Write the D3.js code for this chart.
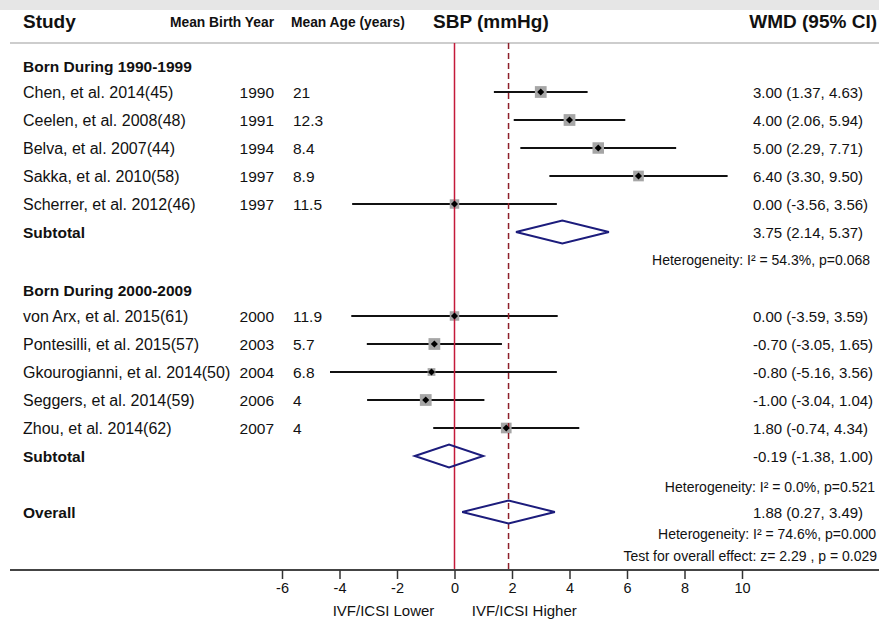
<!DOCTYPE html>
<html>
<head>
<meta charset="utf-8">
<script src="https://cdn.jsdelivr.net/npm/d3@7"></script>
<style>
    body { margin: 0; background: #fff; }
    svg { display: block; font-family: 'Liberation Sans', Arial, Helvetica, sans-serif; }
</style>
</head>
<body>
<div id="chart"></div>
<script>
// ---- data ----
const groupTitles = ['Born During 1990-1999', 'Born During 2000-2009'];

const studies1 = ['Chen, et al. 2014(45)', 'Ceelen, et al. 2008(48)', 'Belva, et al. 2007(44)',
    'Sakka, et al. 2010(58)', 'Scherrer, et al. 2012(46)'];
const birthYear1 = ['1990', '1991', '1994', '1997', '1997'];
const meanAge1 = ['21', '12.3', '8.4', '8.9', '11.5'];
const wmd1 = [3.00, 4.00, 5.00, 6.40, 0.00];
const lower1 = [1.37, 2.06, 2.29, 3.30, -3.56];
const upper1 = [4.63, 5.94, 7.71, 9.50, 3.56];
const weight1 = [11.5, 11.5, 11, 9.5, 7.5];

const studies2 = ['von Arx, et al. 2015(61)', 'Pontesilli, et al. 2015(57)', 'Gkourogianni, et al. 2014(50)',
    'Seggers, et al. 2014(59)', 'Zhou, et al. 2014(62)'];
const birthYear2 = ['2000', '2003', '2004', '2006', '2007'];
const meanAge2 = ['11.9', '5.7', '6.8', '4', '4'];
const wmd2 = [0.00, -0.70, -0.80, -1.00, 1.80];
const lower2 = [-3.59, -3.05, -5.16, -3.04, -0.74];
const upper2 = [3.59, 1.65, 3.56, 1.04, 4.34];
const weight2 = [7.5, 11.5, 5, 11.5, 9.5];

const subtotalEst = [3.75, -0.19];
const subtotalLow = [2.14, -1.38];
const subtotalHigh = [5.37, 1.00];
const heterogeneity = ['Heterogeneity: I² = 54.3%, p=0.068', 'Heterogeneity: I² = 0.0%, p=0.521'];

const overallEst = 1.88;
const overallLow = 0.27;
const overallHigh = 3.49;
const overallHet = 'Heterogeneity: I² = 74.6%, p=0.000';
const overallTest = 'Test for overall effect: z= 2.29 , p = 0.029';

const xTicks = [-6, -4, -2, 0, 2, 4, 6, 8, 10];
const sideLabels = ['IVF/ICSI Lower', 'IVF/ICSI Higher'];

// ---- layout ----
const width = 879, height = 623;
const x = d3.scaleLinear().domain([-6, 10]).range([282, 742]);
const y = d3.scaleLinear().domain([0, 1]).range([92, 120]); // one row per unit
const size = d3.scaleSqrt().domain([0, 12]).range([0, 12]);
const ciText = (e, l, h) => `${e.toFixed(2)} (${l.toFixed(2)}, ${h.toFixed(2)})`;

const svg = d3.select('#chart').append('svg')
    .attr('width', width)
    .attr('height', height);

// plot area starts right of the age column
svg.append('clipPath').attr('id', 'plotClip')
    .append('rect').attr('x', 330).attr('y', 0).attr('width', width).attr('height', height);

// top band + header
svg.append('rect').attr('x', 0).attr('y', 0).attr('width', width).attr('height', 10).attr('fill', '#e6e6e6');
svg.append('line').attr('x1', 10).attr('x2', width).attr('y1', 43).attr('y2', 43)
    .attr('stroke', '#bdbdbd').attr('stroke-width', 1.5);

const header = svg.append('g').attr('font-weight', 'bold').attr('fill', '#111');
header.append('text').attr('x', 23).attr('y', 28).attr('font-size', 19).text('Study');
header.append('text').attr('x', 170).attr('y', 27).attr('font-size', 13.8).text('Mean Birth Year');
header.append('text').attr('x', 291).attr('y', 27).attr('font-size', 13.8).text('Mean Age (years)');
header.append('text').attr('x', 433).attr('y', 28).attr('font-size', 19).text('SBP (mmHg)');
header.append('text').attr('x', 877).attr('y', 28).attr('font-size', 19).attr('text-anchor', 'end').text('WMD (95% CI)');

// build rows
const rows = [];
const groups = [
    { title: groupTitles[0], names: studies1, years: birthYear1, ages: meanAge1, est: wmd1, lo: lower1, hi: upper1, w: weight1 },
    { title: groupTitles[1], names: studies2, years: birthYear2, ages: meanAge2, est: wmd2, lo: lower2, hi: upper2, w: weight2 }
];
let r = 0;
groups.forEach((g, gi) => {
    rows.push({ type: 'title', row: r - 0.9, label: g.title });
    g.names.forEach((n, i) => {
        rows.push({ type: 'study', row: r, label: n, year: g.years[i], age: g.ages[i],
            est: g.est[i], lo: g.lo[i], hi: g.hi[i], w: g.w[i] });
        r++;
    });
    rows.push({ type: 'pooled', row: r, label: 'Subtotal', est: subtotalEst[gi], lo: subtotalLow[gi], hi: subtotalHigh[gi] });
    rows.push({ type: 'het', row: r + (gi === 0 ? 1 : 1.1), label: heterogeneity[gi], end: gi === 0 ? 870 : 875 });
    r += 3;
});
r -= 1;
rows.push({ type: 'pooled', row: r, label: 'Overall', est: overallEst, lo: overallLow, hi: overallHigh });
rows.push({ type: 'het', row: r + 0.78, label: overallHet, end: 876 });
rows.push({ type: 'het', row: r + 1.58, label: overallTest, end: 877 });

const studies = rows.filter(d => d.type === 'study');
const pooled = rows.filter(d => d.type === 'pooled');

// CI lines
svg.append('g').attr('clip-path', 'url(#plotClip)')
    .selectAll('line').data(studies).join('line')
    .attr('x1', d => x(d.lo)).attr('x2', d => x(d.hi))
    .attr('y1', d => y(d.row)).attr('y2', d => y(d.row))
    .attr('stroke', '#111').attr('stroke-width', 2.2);

// weight squares
svg.append('g').selectAll('rect').data(studies).join('rect')
    .attr('x', d => x(d.est) - size(d.w) / 2)
    .attr('y', d => y(d.row) - size(d.w) / 2)
    .attr('width', d => size(d.w)).attr('height', d => size(d.w))
    .attr('fill', '#a6a6a6');

// reference lines
const axisY = 570;
svg.append('line').attr('x1', x(0)).attr('x2', x(0)).attr('y1', 43).attr('y2', axisY)
    .attr('stroke', '#c41a3a').attr('stroke-width', 1.5);
svg.append('line').attr('x1', x(overallEst)).attr('x2', x(overallEst)).attr('y1', 43).attr('y2', axisY)
    .attr('stroke', '#8e1f2a').attr('stroke-width', 1.5).attr('stroke-dasharray', '6,4');

// point estimates
svg.append('g').selectAll('path').data(studies).join('path')
    .attr('transform', d => `translate(${x(d.est)},${y(d.row)})`)
    .attr('d', d3.symbol(d3.symbolDiamond2, 32))
    .attr('fill', '#000');

// pooled diamonds
svg.append('g').selectAll('path').data(pooled).join('path')
    .attr('d', d => {
        const cy = y(d.row);
        return `M${x(d.lo)},${cy}L${x(d.est)},${cy - 11.5}L${x(d.hi)},${cy}L${x(d.est)},${cy + 11.5}Z`;
    })
    .attr('fill', 'none').attr('stroke', '#1c1c7c').attr('stroke-width', 2);

// left text
const left = svg.append('g').attr('fill', '#111');
left.selectAll('text.lab').data(rows.filter(d => d.type !== 'het')).join('text')
    .attr('class', 'lab')
    .attr('x', 23).attr('y', d => y(d.row) + 5.5)
    .attr('font-size', d => d.type === 'study' ? 16 : 15.5)
    .attr('font-weight', d => d.type === 'study' ? 'normal' : 'bold')
    .text(d => d.label);
left.selectAll('text.yr').data(studies).join('text')
    .attr('class', 'yr')
    .attr('x', 274).attr('y', d => y(d.row) + 5.5)
    .attr('font-size', 15.5).attr('text-anchor', 'end')
    .text(d => d.year);
left.selectAll('text.age').data(studies).join('text')
    .attr('class', 'age')
    .attr('x', 293).attr('y', d => y(d.row) + 5.5)
    .attr('font-size', 15.5)
    .text(d => d.age);

// right text
const right = svg.append('g').attr('fill', '#111');
right.selectAll('text.ci').data(rows.filter(d => d.type === 'study' || d.type === 'pooled')).join('text')
    .attr('class', 'ci')
    .attr('x', 753).attr('y', d => y(d.row) + 5.5)
    .attr('font-size', 15)
    .text(d => ciText(d.est, d.lo, d.hi));
right.selectAll('text.het').data(rows.filter(d => d.type === 'het')).join('text')
    .attr('class', 'het')
    .attr('x', d => d.end).attr('y', d => y(d.row) + 5)
    .attr('font-size', 14).attr('text-anchor', 'end')
    .text(d => d.label);

// axis
svg.append('line').attr('x1', 10).attr('x2', width).attr('y1', axisY).attr('y2', axisY)
    .attr('stroke', '#444').attr('stroke-width', 2);
const axis = svg.append('g')
    .attr('transform', `translate(0,${axisY})`)
    .call(d3.axisBottom(x).tickValues(xTicks).tickSize(9).tickPadding(4).tickFormat(d => String(d)));
axis.select('.domain').remove();
axis.selectAll('.tick line').attr('stroke', '#333').attr('stroke-width', 1.5);
axis.selectAll('.tick text').attr('font-size', 14.5).attr('fill', '#111')
    .attr('font-family', "'Liberation Sans', Arial, sans-serif");

svg.append('text').attr('x', x(-0.7)).attr('y', 616).attr('font-size', 15)
    .attr('text-anchor', 'end').attr('fill', '#111').text(sideLabels[0]);
svg.append('text').attr('x', x(0.6)).attr('y', 616).attr('font-size', 15)
    .attr('fill', '#111').text(sideLabels[1]);
</script>
</body>
</html>
